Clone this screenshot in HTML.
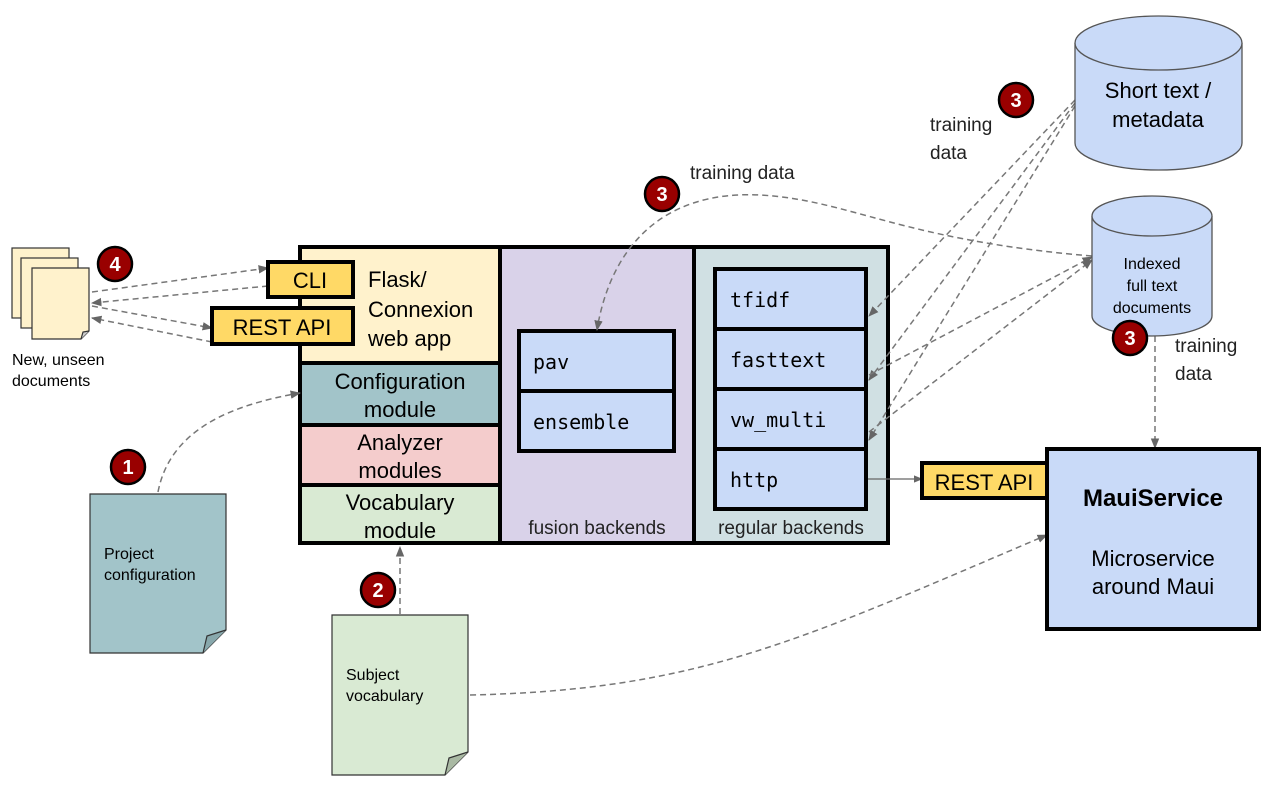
<!DOCTYPE html>
<html><head><meta charset="utf-8"><style>
html,body{margin:0;padding:0;background:#fff;}
svg{display:block;font-family:"Liberation Sans",sans-serif;}
.m{font-family:"DejaVu Sans Mono","Liberation Mono",monospace;}
</style></head><body>
<svg width="1271" height="797" viewBox="0 0 1271 797" xmlns="http://www.w3.org/2000/svg">
<defs>
<marker id="a" viewBox="0 0 10 10" refX="9" refY="5" markerWidth="7" markerHeight="7" orient="auto-start-reverse"><path d="M0,1 L10,5 L0,9 z" fill="#666"/></marker>
</defs>
<!-- main box -->
<rect x="300" y="247" width="200" height="116" fill="#fff2cc"/>
<rect x="300" y="363" width="200" height="62" fill="#a2c4c9"/>
<rect x="300" y="425" width="200" height="60" fill="#f4cccc"/>
<rect x="300" y="485" width="200" height="58" fill="#d9ead3"/>
<rect x="500" y="247" width="194" height="296" fill="#d9d2e9"/>
<rect x="694" y="247" width="194" height="296" fill="#d0e0e3"/>
<g stroke="#000" stroke-width="4" fill="none">
<rect x="300" y="247" width="588" height="296"/>
<line x1="500" y1="247" x2="500" y2="543"/>
<line x1="694" y1="247" x2="694" y2="543"/>
<line x1="300" y1="363" x2="500" y2="363"/>
<line x1="300" y1="425" x2="500" y2="425"/>
<line x1="300" y1="485" x2="500" y2="485"/>
</g>
<g stroke="#000" stroke-width="4" fill="#c9daf8">
<rect x="519" y="331" width="155" height="60"/>
<rect x="519" y="391" width="155" height="60"/>
<rect x="715" y="269" width="151" height="60"/>
<rect x="715" y="329" width="151" height="60"/>
<rect x="715" y="389" width="151" height="60"/>
<rect x="715" y="449" width="151" height="60"/>
</g>
<!-- dashed connectors -->
<g fill="none" stroke="#777" stroke-width="1.5" stroke-dasharray="6,4">
<path d="M92,292 L268,268" marker-end="url(#a)"/>
<path d="M268,286 L92,303" marker-end="url(#a)"/>
<path d="M92,306 L212,328" marker-end="url(#a)"/>
<path d="M212,342 L92,318" marker-end="url(#a)"/>
<path d="M158,492 C170,430 230,405 300,393" marker-end="url(#a)"/>
<path d="M400,614 L400,547" marker-end="url(#a)"/>
<path d="M470,695 C700,690 800,640 1047,535" marker-end="url(#a)"/>
<path d="M1092,256 C900,240 850,200 760,195 C660,190 610,250 597,330" marker-end="url(#a)"/>
<path d="M1075,100 L869,316" marker-end="url(#a)"/>
<path d="M1075,103 L869,380" marker-end="url(#a)"/>
<path d="M1075,106 L869,440" marker-end="url(#a)"/>
<path d="M869,375 L1092,257" marker-end="url(#a)"/>
<path d="M869,432 L1092,260" marker-end="url(#a)"/>
<path d="M1155,336 L1155,448" marker-end="url(#a)"/>
</g>
<path d="M868,479 L922,479" stroke="#666" stroke-width="1.3" fill="none" marker-end="url(#a)"/>
<g stroke="#000" stroke-width="4" fill="#ffd966">
<rect x="268" y="262" width="85" height="35"/>
<rect x="212" y="308" width="141" height="36"/>
<rect x="922" y="463" width="125" height="35"/>
</g>
<rect x="1047" y="449" width="212" height="180" fill="#c9daf8" stroke="#000" stroke-width="4"/>
<g font-size="22" fill="#000">
<text x="310" y="288" text-anchor="middle">CLI</text>
<text x="282" y="335" text-anchor="middle">REST API</text>
<text x="984" y="490" text-anchor="middle">REST API</text>
<text x="368" y="287">Flask/</text>
<text x="368" y="317">Connexion</text>
<text x="368" y="346">web app</text>
<text x="400" y="389" text-anchor="middle">Configuration</text>
<text x="400" y="417" text-anchor="middle">module</text>
<text x="400" y="450" text-anchor="middle">Analyzer</text>
<text x="400" y="478" text-anchor="middle">modules</text>
<text x="400" y="510" text-anchor="middle">Vocabulary</text>
<text x="400" y="538" text-anchor="middle">module</text>
<text x="1153" y="506" text-anchor="middle" font-weight="bold" font-size="24">MauiService</text>
<text x="1153" y="566" text-anchor="middle">Microservice</text>
<text x="1153" y="594" text-anchor="middle">around Maui</text>
</g>
<g font-size="19" fill="#222">
<text x="597" y="534" text-anchor="middle">fusion backends</text>
<text x="791" y="534" text-anchor="middle">regular backends</text>
<text x="690" y="179">training data</text>
<text x="930" y="131">training</text>
<text x="930" y="159">data</text>
<text x="1175" y="352">training</text>
<text x="1175" y="380">data</text>
</g>
<g class="m" font-size="20" fill="#000">
<text x="533" y="369">pav</text>
<text x="533" y="429">ensemble</text>
<text x="730" y="307">tfidf</text>
<text x="730" y="367">fasttext</text>
<text x="730" y="427">vw_multi</text>
<text x="730" y="487">http</text>
</g>
<!-- cylinders -->
<path d="M1075,43 L1075,143 A83.5,27 0 0 0 1242,143 L1242,43" fill="#c9daf8" stroke="#555" stroke-width="1.3"/>
<ellipse cx="1158.5" cy="43" rx="83.5" ry="27" fill="#c9daf8" stroke="#555" stroke-width="1.3"/>
<text x="1158" y="98" text-anchor="middle" font-size="22">Short text /</text>
<text x="1158" y="127" text-anchor="middle" font-size="22">metadata</text>
<path d="M1092,216 L1092,316 A60,20 0 0 0 1212,316 L1212,216" fill="#c9daf8" stroke="#555" stroke-width="1.3"/>
<ellipse cx="1152" cy="216" rx="60" ry="20" fill="#c9daf8" stroke="#555" stroke-width="1.3"/>
<g font-size="16" text-anchor="middle"><text x="1152" y="269">Indexed</text><text x="1152" y="291">full text</text><text x="1152" y="313">documents</text></g>
<!-- docs -->
<g stroke="#333" stroke-width="1.2" fill="#fff2cc">
<rect x="12" y="248" width="57" height="70"/>
<rect x="21" y="258" width="57" height="70"/>
<path d="M32,268 L89,268 L89,331 L81,339 L32,339 z"/>
<path d="M81,339 L83,332 L89,331" fill="#ccc"/>
</g>
<text x="12" y="365" font-size="16">New, unseen</text>
<text x="12" y="386" font-size="16">documents</text>
<path d="M90,494 L226,494 L226,630 L203,653 L90,653 z" fill="#a2c4c9" stroke="#333" stroke-width="1.2"/>
<path d="M203,653 L207,636 L226,630" fill="#88a8ac" stroke="#333" stroke-width="1.2"/>
<text x="104" y="559" font-size="16">Project</text>
<text x="104" y="580" font-size="16">configuration</text>
<path d="M332,615 L468,615 L468,752 L445,775 L332,775 z" fill="#d9ead3" stroke="#333" stroke-width="1.2"/>
<path d="M445,775 L449,758 L468,752" fill="#a9b9a3" stroke="#333" stroke-width="1.2"/>
<text x="346" y="680" font-size="16">Subject</text>
<text x="346" y="701" font-size="16">vocabulary</text>
<!-- badges -->
<g stroke="#000" stroke-width="2.5" fill="#990000">
<circle cx="115" cy="264" r="17"/>
<circle cx="128" cy="467" r="17"/>
<circle cx="378" cy="590" r="17"/>
<circle cx="662" cy="194" r="17"/>
<circle cx="1016" cy="100" r="17"/>
<circle cx="1130" cy="338" r="17"/>
</g>
<g fill="#fff" font-weight="bold" font-size="20" text-anchor="middle">
<text x="115" y="271">4</text>
<text x="128" y="474">1</text>
<text x="378" y="597">2</text>
<text x="662" y="201">3</text>
<text x="1016" y="107">3</text>
<text x="1130" y="345">3</text>
</g>
</svg>
</body></html>
